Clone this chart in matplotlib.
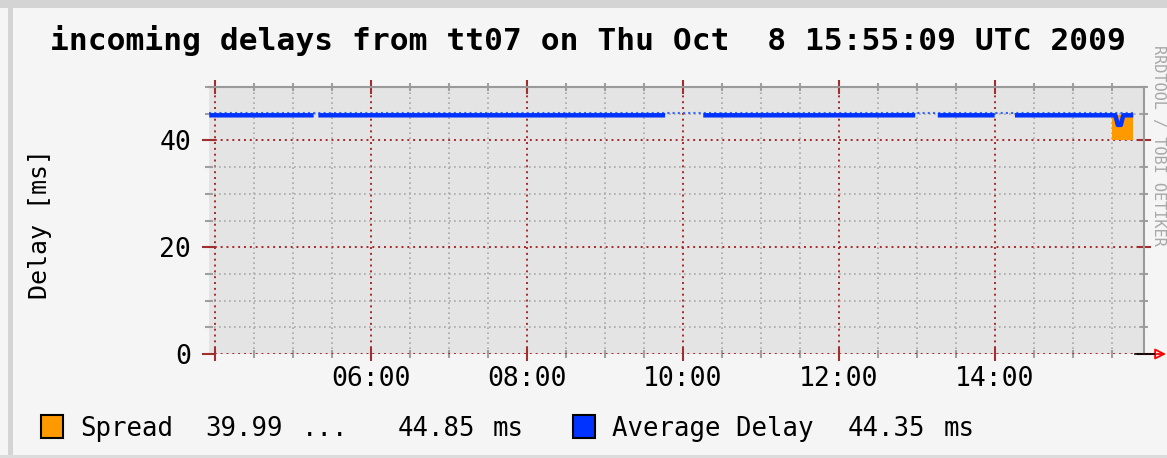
import numpy as np
import matplotlib.pyplot as plt
from matplotlib.patches import Rectangle

# time in decimal hours of the day
avg_t = [3.92, 5.26, np.nan, 5.32, 9.77, np.nan, 10.26, 12.98, np.nan,
         13.27, 14.0, np.nan, 14.26, 15.55, 15.58, 15.62, 15.65, 15.78]
avg_v = [44.7, 44.7, np.nan, 44.7, 44.7, np.nan, 44.7, 44.7, np.nan,
         44.7, 44.7, np.nan, 44.7, 44.7, 42.9, 42.9, 44.7, 44.7]
# thin dotted trace visible through the gaps
trace_t = [3.92, 15.78]
trace_v = [45.05, 45.05]
# spread band
spread_t = [15.50, 15.77]
spread_lo = [39.99, 39.99]
spread_hi = [44.85, 44.85]

xticks = [4, 6, 8, 10, 12, 14]
xlabels = ['', '06:00', '08:00', '10:00', '12:00', '14:00']
yticks = [0, 20, 40]
ylabels = ['0', '20', '40']

title = 'incoming delays from tt07 on Thu Oct  8 15:55:09 UTC 2009'
mono = 'DejaVu Sans Mono'
W, H = 1167, 458

fig = plt.figure(figsize=(W / 100, H / 100), dpi=100, facecolor='#f5f5f5')
ax = fig.add_axes([209 / W, 1 - 354 / H, (1144 - 209) / W, (354 - 87) / H])
ax.set_facecolor('#e4e4e4')

ax.fill_between(spread_t, spread_lo, spread_hi, color='#ff9900', lw=0, zorder=3)
ax.plot(trace_t, trace_v, color='#3366ff', lw=1.5, ls=(0, (1, 1.5)), zorder=4)
ax.plot(avg_t, avg_v, color='#0033ff', lw=3.2, solid_capstyle='butt', zorder=5)

ax.set_xlim(3.9167, 15.9167)
ax.set_ylim(0, 50)
ax.set_xticks(xticks)
ax.set_xticks(np.arange(4, 16, 0.5), minor=True)
ax.set_xticklabels(xlabels)
ax.set_yticks(yticks)
ax.set_yticks(np.arange(0, 51, 5), minor=True)
ax.set_yticklabels(ylabels)

ax.grid(which='minor', color='#a8a8a8', ls=(0, (1, 2)), lw=1.2, zorder=1)
ax.grid(which='major', color='#a82828', ls=(0, (1, 2)), lw=1.4, zorder=2)
ax.set_axisbelow(True)

ax.tick_params(which='major', direction='inout', length=10, width=1.5,
               color='#a03030', top=True, right=True)
ax.tick_params(which='minor', direction='inout', length=6, width=1.5,
               color='#a0a0a0', top=True, right=True)
ax.tick_params(axis='y', which='major', pad=8)
ax.tick_params(axis='x', which='major', pad=4)
for lab in ax.get_xticklabels() + ax.get_yticklabels():
    lab.set_family(mono)
    lab.set_fontsize(19)

for s in ['left', 'bottom']:
    ax.spines[s].set_visible(False)
for s in ['top', 'right']:
    ax.spines[s].set_color('#9a9a9a')
    ax.spines[s].set_linewidth(1.5)

# axis arrow at the right end of the x axis
fig.add_artist(plt.Line2D([1135 / W, 1154 / W], [1 - 354 / H] * 2, color='black', lw=1.2))
ax.annotate('', xy=(1166, H - 354), xytext=(1150, H - 354), xycoords='figure pixels',
            textcoords='figure pixels',
            arrowprops=dict(arrowstyle='-|>', color='red', fc='none', lw=1.3,
                            mutation_scale=16, shrinkA=0, shrinkB=0))

# frame of the image
fig.add_artist(Rectangle((0, 1 - 8 / H), 1, 8 / H, transform=fig.transFigure,
                         color='#d4d4d4', lw=0))
fig.add_artist(Rectangle((8 / W, 3 / H), 5 / W, 1 - 11 / H, transform=fig.transFigure,
                         color='#d4d4d4', lw=0))
fig.add_artist(Rectangle((0, 0), 1, 3 / H, transform=fig.transFigure,
                         color='#dcdcdc', lw=0))

fig.text(588 / W, 1 - 50 / H, title, ha='center', va='baseline',
         family=mono, fontsize=22.5, fontweight='bold')
fig.text(40 / W, 1 - 224 / H, 'Delay [ms]', rotation=90, ha='center', va='center',
         family=mono, fontsize=18)
fig.text(1151 / W, 1 - 145 / H, 'RRDTOOL / TOBI OETIKER', rotation=270,
         ha='left', va='center', family=mono, fontsize=11, color='#a8a8a8')

# legend
fig.add_artist(Rectangle((41 / W, 1 - 438 / H), 22 / W, 23 / H, transform=fig.transFigure,
                         fc='#ff9900', ec='black', lw=1.5))
fig.add_artist(Rectangle((573 / W, 1 - 438 / H), 22 / W, 23 / H, transform=fig.transFigure,
                         fc='#0033ff', ec='black', lw=1.5))
legend_items = [(80, 'Spread'), (205, '39.99'), (302, '...'), (398, '44.85'),
                (493, 'ms'), (612, 'Average Delay'), (848, '44.35'), (944, 'ms')]
for x, s in legend_items:
    fig.text(x / W, 1 - 436 / H, s, ha='left', va='baseline', family=mono, fontsize=18.5)

fig.savefig('out.png', dpi=100, facecolor=fig.get_facecolor())
